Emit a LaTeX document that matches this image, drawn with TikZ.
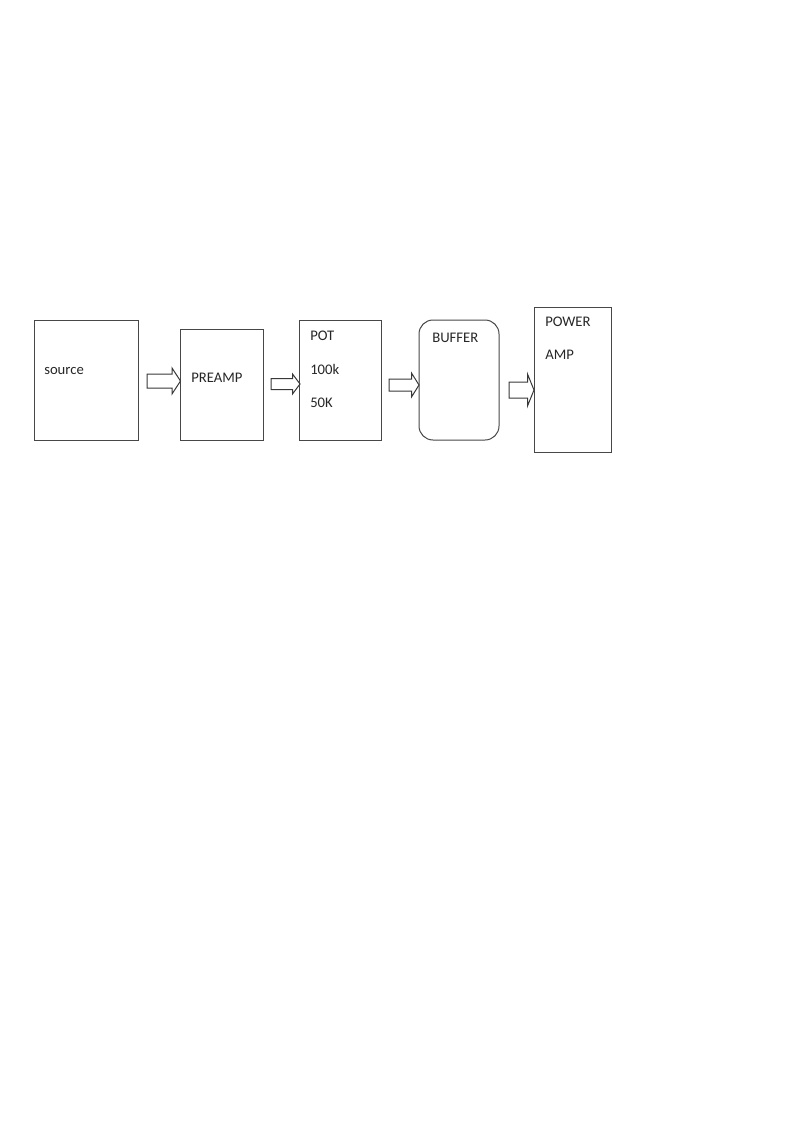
\documentclass[tikz,border=0pt]{standalone}
\usepackage{fontspec}
\setmainfont{Carlito}
\begin{document}
\begin{tikzpicture}[x=0.75pt,y=-0.75pt,
  box/.style={draw=black!72,line width=0.75pt,inner sep=0pt,rectangle},
  blk/.style={draw=black!78,line width=0.75pt,fill=white,line join=miter},
  lbl/.style={anchor=base west,inner sep=0pt,font=\fontsize{11}{13}\selectfont,text=black!85}]
\useasboundingbox (0,0) rectangle (800,1131);
% boxes
\node[box,minimum width=78pt,minimum height=90pt] (srcbox) at (86,380) {};
\node[lbl] (src) at (44,374) {source};
\node[box,minimum width=62.25pt,minimum height=83.25pt] (prebox) at (221.5,384.5) {};
\node[lbl] (pre) at (191,382) {PREAMP};
\node[box,minimum width=61.5pt,minimum height=90pt] (potbox) at (340,380) {};
\node[lbl] (pot1) at (310,340) {POT};
\node[lbl] (pot2) at (310,374) {100k};
\node[lbl] (pot3) at (310,407) {50K};
\node[box,rounded corners=10.5pt,minimum width=60pt,minimum height=90pt] (bufbox) at (459,380) {};
\node[lbl] (buf) at (432,342) {BUFFER};
\node[box,minimum width=57.75pt,minimum height=108.75pt] (pwbox) at (572.5,379.5) {};
\node[lbl] (pw1) at (545,326) {POWER};
\node[lbl] (pw2) at (545,359) {AMP};
% block arrows
\draw[blk] (147,374) -- (172,374) -- (172,368) -- (180.5,381) -- (172,394) -- (172,388) -- (147,388) -- cycle;
\draw[blk] (271,378.5) -- (292.5,378.5) -- (292.5,374) -- (300,384) -- (292.5,394) -- (292.5,389.5) -- (271,389.5) -- cycle;
\draw[blk] (389,379) -- (411.5,379) -- (411.5,373) -- (419,385) -- (411.5,397) -- (411.5,391) -- (389,391) -- cycle;
\draw[blk] (509,382) -- (527.5,382) -- (527.5,374) -- (534,390) -- (527.5,406) -- (527.5,398) -- (509,398) -- cycle;
\end{tikzpicture}
\end{document}
